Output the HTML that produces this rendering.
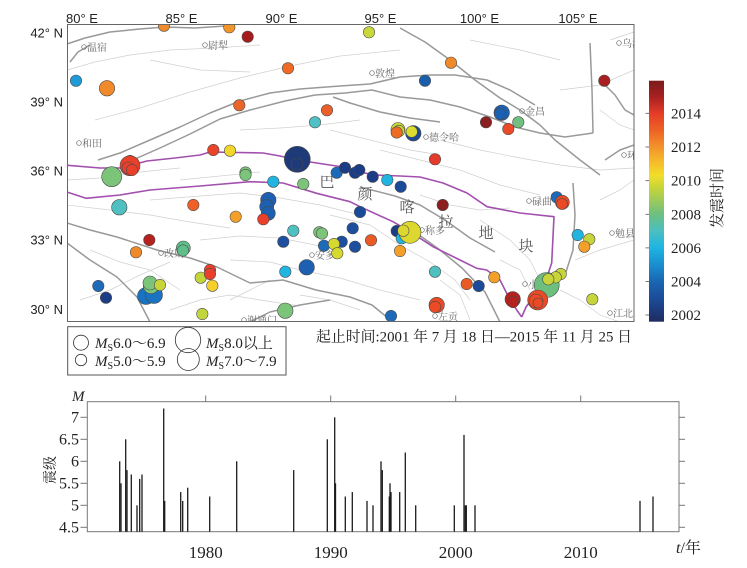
<!DOCTYPE html>
<html><head><meta charset="utf-8">
<style>
html,body{margin:0;padding:0;background:#fff;}
svg{display:block;}
.c circle{stroke:#4a4a4a;stroke-width:0.6;}
.f{fill:none;stroke:#999;stroke-width:1.5;stroke-linejoin:round;}
.l{fill:none;stroke:#d0d0d0;stroke-width:0.7;}
.p{fill:none;stroke:#a24fae;stroke-width:1.6;stroke-linejoin:round;}
.ax{font-family:"Liberation Sans",sans-serif;font-size:13px;fill:#222;}
.city{font-family:"Liberation Serif","Noto Serif CJK SC",serif;font-size:10px;fill:#666;}
.big{font-family:"Liberation Serif","Noto Serif CJK SC",serif;font-size:15px;fill:#555;text-anchor:middle;}
.sr{font-family:"Liberation Serif","Noto Serif CJK SC",serif;fill:#222;}
.bar{stroke:#1a1a1a;stroke-width:1.3;}
</style></head>
<body>
<svg width="747" height="568" viewBox="0 0 747 568" xmlns="http://www.w3.org/2000/svg">
<defs>
<clipPath id="mc"><rect x="67.5" y="24.5" width="566.5" height="297"/></clipPath>
<linearGradient id="cb" x1="0" y1="0" x2="0" y2="1">
<stop offset="0" stop-color="#7a1c1c"/>
<stop offset="0.065" stop-color="#a82020"/>
<stop offset="0.135" stop-color="#e43c27"/>
<stop offset="0.205" stop-color="#ee6225"/>
<stop offset="0.274" stop-color="#f3922a"/>
<stop offset="0.344" stop-color="#f6c02b"/>
<stop offset="0.393" stop-color="#f2dd2a"/>
<stop offset="0.448" stop-color="#c3d43b"/>
<stop offset="0.518" stop-color="#8cc66a"/>
<stop offset="0.553" stop-color="#6dbf7e"/>
<stop offset="0.623" stop-color="#4cbfc0"/>
<stop offset="0.692" stop-color="#1eb5e2"/>
<stop offset="0.762" stop-color="#1a8fd0"/>
<stop offset="0.832" stop-color="#1a66b2"/>
<stop offset="0.901" stop-color="#1b4d99"/>
<stop offset="1" stop-color="#1f2b62"/>
</linearGradient>
</defs>
<rect width="747" height="568" fill="#fff"/>

<!-- MAP -->
<g clip-path="url(#mc)">
<g class="l">
<polyline points="67,70 95,62 130,55 170,50 215,48 260,45"/>
<polyline points="95,120 140,108 190,92 240,78 290,66 340,56 400,50"/>
<polyline points="67,180 100,178 140,172 180,168"/>
<polyline points="150,200 200,196 240,193 280,198 320,205 360,215"/>
<polyline points="67,205 110,210 150,215 190,222 230,228"/>
<polyline points="200,240 240,236 280,238 320,246"/>
<polyline points="230,260 270,262 300,270 340,278 380,290 420,300"/>
<polyline points="80,300 110,290 140,275 170,262"/>
<polyline points="170,310 200,300 230,295 260,300 300,306"/>
<polyline points="330,215 370,225 400,245 430,262 455,280 470,300"/>
<polyline points="380,150 420,160 460,170 500,185 540,195"/>
<polyline points="440,140 480,150 520,158 560,165 600,170 634,168"/>
<polyline points="560,90 600,85 634,70"/>
<polyline points="600,200 620,190 634,180"/>
<polyline points="575,260 600,250 634,240"/>
<polyline points="480,220 510,240 530,260 540,280"/>
<polyline points="420,195 450,205 480,210 510,208"/>
<polyline points="330,130 370,140 410,150 440,155"/>
<polyline points="240,130 280,128 320,125 360,120"/>
<polyline points="560,290 580,300 600,315 620,322"/>
<polyline points="440,280 460,295 470,320"/>
<polyline points="300,295 330,300 360,310"/>
<polyline points="600,110 620,125 634,130"/>
<polyline points="610,40 625,35 634,32"/>
<polyline points="180,180 220,176 260,172"/>
<polyline points="90,250 120,262 150,270 180,290"/>
<polyline points="230,300 250,290 270,280"/>
<polyline points="470,40 520,50 560,60"/>
<polyline points="150,60 200,70 250,72"/>
<polyline points="500,260 520,270 530,290"/>
</g>
<g class="f">
<polyline points="67,44 85,38 110,32 140,29 165,27 195,28 225,26"/>
<polyline points="70,62 78,52 90,45"/>
<polyline points="98,160 120,153 150,140 180,127 210,113 240,101 270,93 300,89 340,86 370,84 400,77 430,75 455,75 487,80 510,90 535,105"/>
<polyline points="135,159 160,148 190,134 220,119 250,110 285,101 315,95 345,93 372,90 400,97 430,100 460,107 490,117 515,127 540,133 565,137 593,133"/>
<polyline points="590,43 592,90 593,133"/>
<polyline points="400,28 425,42 450,60 475,80 500,98 520,110 540,125 555,140 580,160 600,175"/>
<polyline points="333,97 350,103 380,112 410,118 440,122"/>
<polyline points="67,223 90,230 117,237 157,250 190,258 217,267 250,283 283,280 316,290 350,297 372,305 388,318"/>
<polyline points="67,243 90,260 117,277 137,297 150,322"/>
<polyline points="360,187 395,196 420,205 445,220 470,238 495,252"/>
<polyline points="415,232 440,250 462,268 485,292 500,322"/>
<polyline points="573,183 575,215 573,250 565,275"/>
<polyline points="605,160 620,150 634,145"/>
<polyline points="600,80 615,95 625,110 634,115"/>
<polyline points="250,322 270,312 300,305 330,300"/>
</g>
<polyline class="p" points="67,165.3 100,168 120,168 147,161 175,158 200,155 210,152 263,153 280,156 297,160 343,167 360,172 375,175 400,176 420,177 443,183 467,193 487,206.7 520,213 554,216.7 553,236.7 551.7,263 546,280 535,295 526,307 521.7,317"/>
<polyline class="p" points="67,192 86,198.3 120,195 150,190 200,186 250,181.7 283,183 316.7,193.3 350,201.7 360,206.7 393,221.7 410,231.7 433,246.7 460,260 476.7,268.3 486.7,270 500,280 506.7,293.3 516.7,310 521.7,317"/>

<g fill="none" stroke="#666" stroke-width="0.7">
<circle cx="84" cy="47" r="2.3"/><circle cx="205" cy="45" r="2.3"/><circle cx="79" cy="143" r="2.3"/>
<circle cx="372" cy="73" r="2.3"/><circle cx="522" cy="111" r="2.3"/><circle cx="426" cy="137" r="2.3"/>
<circle cx="619" cy="43" r="2.3"/><circle cx="624" cy="155" r="2.3"/><circle cx="161" cy="253" r="2.3"/>
<circle cx="312" cy="255" r="2.3"/><circle cx="244" cy="320" r="2.3"/><circle cx="422" cy="230" r="2.3"/>
<circle cx="529" cy="201" r="2.3"/><circle cx="612" cy="233" r="2.3"/><circle cx="610" cy="313" r="2.3"/>
<circle cx="525" cy="284" r="2.3"/><circle cx="435" cy="316" r="2.3"/>
</g>
<g class="city">
<text x="87" y="51">温宿</text><text x="208" y="49">尉犁</text><text x="82" y="147">和田</text>
<text x="375" y="77">敦煌</text><text x="525" y="115">金昌</text><text x="429" y="141">德令哈</text>
<text x="622" y="47">乌海</text><text x="627" y="159">环县</text><text x="164" y="257">改则</text>
<text x="315" y="259">安多</text><text x="247" y="324">谢通门</text><text x="425" y="234">称多</text>
<text x="532" y="205">碌曲</text><text x="615" y="237">勉县</text><text x="613" y="317">江北</text>
<text x="528" y="288">小金</text><text x="438" y="320">左贡</text>
</g>

<text class="big" x="327" y="187">巴</text>
<text class="big" x="365" y="199">颜</text>
<text class="big" x="407" y="212">喀</text>
<text class="big" x="446" y="227">拉</text>
<text class="big" x="486" y="238">地</text>
<text class="big" x="526" y="251">块</text>

<g class="c">
<circle cx="164" cy="25.7" r="5.7" fill="#f08a2a"/>
<circle cx="229.3" cy="27.3" r="5.7" fill="#f4952a"/>
<circle cx="247.7" cy="36.7" r="5.7" fill="#a51c1c"/>
<circle cx="369" cy="32.3" r="5.7" fill="#c8d83a"/>
<circle cx="288" cy="68.3" r="5.7" fill="#ee6a25"/>
<circle cx="451" cy="62.7" r="5.7" fill="#f08a2a"/>
<circle cx="76" cy="80.7" r="5.7" fill="#1e9ad6"/>
<circle cx="107" cy="88.3" r="7.7" fill="#f08a2a"/>
<circle cx="425" cy="80.7" r="5.7" fill="#1a5eab"/>
<circle cx="604.3" cy="80.7" r="5.7" fill="#a82020"/>
<circle cx="239.3" cy="105.3" r="5.7" fill="#e9652a"/>
<circle cx="327" cy="110.3" r="5.7" fill="#e9602a"/>
<circle cx="315" cy="122.3" r="5.7" fill="#4fc0c6"/>
<circle cx="501.7" cy="112.7" r="7.7" fill="#1d5fb0"/>
<circle cx="500" cy="114" r="5.7" fill="#1d5fb0"/>
<circle cx="486" cy="122.3" r="5.7" fill="#8b1e1e"/>
<circle cx="518.3" cy="122.3" r="5.7" fill="#72c080"/>
<circle cx="508.3" cy="129" r="5.7" fill="#ea4a25"/>
<circle cx="398" cy="129.5" r="7" fill="#c7d53a"/>
<circle cx="399" cy="131" r="5.7" fill="#c7d53a"/>
<circle cx="396.7" cy="132.5" r="5.7" fill="#ee6a25"/>
<circle cx="413.3" cy="133.3" r="7.7" fill="#1b4b98"/>
<circle cx="411.7" cy="131.7" r="5.7" fill="#dcdc30"/>
<circle cx="435" cy="159.3" r="5.7" fill="#e43c2a"/>
<circle cx="213.3" cy="150" r="5.7" fill="#e8442a"/>
<circle cx="230" cy="150.7" r="5.7" fill="#f1d72a"/>
<circle cx="297.3" cy="159.3" r="13" fill="#1e3a78"/>
<circle cx="297" cy="164" r="6" fill="#1e3a78"/>
<circle cx="130" cy="161" r="5.7" fill="#ef8a2a"/>
<circle cx="130" cy="165.7" r="10" fill="#e8402a"/>
<circle cx="128" cy="168" r="6" fill="#e8402a"/>
<circle cx="132" cy="170" r="5.7" fill="#e8402a"/>
<circle cx="111.7" cy="176.7" r="10" fill="#7cc47a"/>
<circle cx="245.5" cy="172.5" r="5.7" fill="#7cc47a"/>
<circle cx="245.5" cy="175" r="5.7" fill="#7cc47a"/>
<circle cx="336.7" cy="172.7" r="5.7" fill="#1d6ab8"/>
<circle cx="345" cy="167.7" r="5.7" fill="#1b3d85"/>
<circle cx="355" cy="172.7" r="5.7" fill="#1b3d85"/>
<circle cx="359.3" cy="170" r="5.7" fill="#1b3d85"/>
<circle cx="372.7" cy="176.7" r="5.7" fill="#1b3d85"/>
<circle cx="387.3" cy="180" r="5.7" fill="#22b4e0"/>
<circle cx="400.7" cy="186.7" r="5.7" fill="#1b4b98"/>
<circle cx="273.3" cy="181.7" r="5.7" fill="#22b4e0"/>
<circle cx="303.3" cy="184" r="5.7" fill="#7cc47a"/>
<circle cx="119.3" cy="207.3" r="7.7" fill="#4fbfc0"/>
<circle cx="193.3" cy="205" r="5.7" fill="#ee6025"/>
<circle cx="235.7" cy="216.7" r="5.7" fill="#f3a02a"/>
<circle cx="268.3" cy="200" r="7.7" fill="#1d5fb0"/>
<circle cx="266.7" cy="206.7" r="7" fill="#1d5fb0"/>
<circle cx="268.3" cy="213.3" r="7" fill="#1d5fb0"/>
<circle cx="263.3" cy="219.3" r="5.7" fill="#e8402a"/>
<circle cx="360" cy="212" r="5.7" fill="#1b4b98"/>
<circle cx="442.7" cy="205" r="5.7" fill="#8b1e1e"/>
<circle cx="149.3" cy="240" r="5.7" fill="#b5221e"/>
<circle cx="136" cy="252.3" r="5.7" fill="#ef8a2a"/>
<circle cx="183.3" cy="248" r="7" fill="#5fbe8a"/>
<circle cx="183" cy="250.5" r="5.7" fill="#5fbe8a"/>
<circle cx="210" cy="270" r="5.7" fill="#e8402a"/>
<circle cx="200.7" cy="277.7" r="5.7" fill="#c2d53a"/>
<circle cx="210" cy="274" r="5.7" fill="#e8402a"/>
<circle cx="212.3" cy="285.7" r="5.7" fill="#f5d02a"/>
<circle cx="293.3" cy="230.7" r="5.7" fill="#4fbfc0"/>
<circle cx="319.3" cy="232.3" r="5.7" fill="#7cc47a"/>
<circle cx="322" cy="233.5" r="5.7" fill="#7cc47a"/>
<circle cx="283.3" cy="241.7" r="5.7" fill="#1d4f9e"/>
<circle cx="324" cy="245.7" r="5.7" fill="#1d6ab8"/>
<circle cx="341.7" cy="241.7" r="5.7" fill="#1d4f9e"/>
<circle cx="334" cy="244" r="5.7" fill="#d5d930"/>
<circle cx="355" cy="246.7" r="5.7" fill="#1d4f9e"/>
<circle cx="352.7" cy="228.3" r="5.7" fill="#1d4f9e"/>
<circle cx="337.3" cy="253.3" r="5.7" fill="#d5d930"/>
<circle cx="371" cy="240.3" r="5.7" fill="#ea5a25"/>
<circle cx="306.7" cy="267.3" r="7.7" fill="#1d5fb0"/>
<circle cx="285.3" cy="271.7" r="5.7" fill="#22b4e0"/>
<circle cx="146" cy="296" r="8.5" fill="#1a73c0"/>
<circle cx="154" cy="295" r="8.5" fill="#1a73c0"/>
<circle cx="151" cy="286" r="7.7" fill="#7cc47a"/>
<circle cx="150" cy="283" r="7" fill="#7cc47a"/>
<circle cx="160" cy="285" r="5.7" fill="#c7d53a"/>
<circle cx="98.3" cy="286" r="5.7" fill="#1d6ab8"/>
<circle cx="106" cy="297.7" r="5.7" fill="#1b3d85"/>
<circle cx="202.3" cy="314" r="5.7" fill="#c2d53a"/>
<circle cx="285.3" cy="310.7" r="7.7" fill="#7cc47a"/>
<circle cx="396.7" cy="231" r="5.7" fill="#1b3d85"/>
<circle cx="401.7" cy="238.3" r="5.7" fill="#22b4e0"/>
<circle cx="410" cy="232.3" r="11" fill="#dcd830"/>
<circle cx="403.3" cy="230.7" r="5.7" fill="#dcd830"/>
<circle cx="400" cy="251" r="5.7" fill="#f3a02a"/>
<circle cx="435" cy="271.7" r="5.7" fill="#4fbfc0"/>
<circle cx="466.7" cy="284" r="5.7" fill="#ea5a25"/>
<circle cx="478.7" cy="286" r="5.7" fill="#1b4b98"/>
<circle cx="494.3" cy="277.3" r="5.7" fill="#f3a02a"/>
<circle cx="512.7" cy="299.3" r="7.7" fill="#b5221e"/>
<circle cx="513" cy="302" r="5.7" fill="#b5221e"/>
<circle cx="546.7" cy="285" r="12.5" fill="#6dbf7e"/>
<circle cx="560.7" cy="274" r="5.7" fill="#c7d53a"/>
<circle cx="555.7" cy="277.3" r="5.7" fill="#c7d53a"/>
<circle cx="548.3" cy="279.3" r="5.7" fill="#c7d53a"/>
<circle cx="537.7" cy="300" r="10" fill="#ea4a25"/>
<circle cx="536" cy="301" r="7" fill="#ea4a25"/>
<circle cx="538" cy="303" r="5" fill="#ea4a25"/>
<circle cx="556.7" cy="197.3" r="5.7" fill="#1d6ab8"/>
<circle cx="562.3" cy="202.3" r="7" fill="#ea4a25"/>
<circle cx="562" cy="204" r="5.5" fill="#ea4a25"/>
<circle cx="577.7" cy="235" r="5.7" fill="#22b4e0"/>
<circle cx="589.3" cy="239.3" r="5.7" fill="#c7d53a"/>
<circle cx="584.3" cy="246.7" r="5.7" fill="#f3a02a"/>
<circle cx="592.3" cy="299.3" r="5.7" fill="#c7d53a"/>
<circle cx="436.7" cy="305" r="7.7" fill="#ea4a25"/>
<circle cx="435" cy="307" r="5.7" fill="#ea4a25"/>
<circle cx="391" cy="316" r="5.7" fill="#1d6ab8"/>
</g>
</g>
<rect x="67.5" y="24.5" width="566.5" height="297" fill="none" stroke="#666" stroke-width="1"/>

<g class="ax" text-anchor="middle">
<text x="82" y="23">80° E</text>
<text x="181.5" y="23">85° E</text>
<text x="281.5" y="23">90° E</text>
<text x="380.5" y="23">95° E</text>
<text x="479.5" y="23">100° E</text>
<text x="578" y="23">105° E</text>
</g>
<g class="ax" text-anchor="end">
<text x="63" y="37.5">42° N</text>
<text x="63" y="106.5">39° N</text>
<text x="63" y="175.5">36° N</text>
<text x="63" y="244.5">33° N</text>
<text x="63" y="314">30° N</text>
</g>

<rect x="649" y="80.7" width="15" height="241" fill="url(#cb)"/>
<g stroke="#555" stroke-width="0.8">
<line x1="645.5" y1="113.3" x2="649" y2="113.3"/><line x1="645.5" y1="147" x2="649" y2="147"/>
<line x1="645.5" y1="180.7" x2="649" y2="180.7"/><line x1="645.5" y1="214.3" x2="649" y2="214.3"/>
<line x1="645.5" y1="247.9" x2="649" y2="247.9"/><line x1="645.5" y1="281.5" x2="649" y2="281.5"/>
<line x1="645.5" y1="315" x2="649" y2="315"/>
</g>
<g class="sr" font-size="15">
<text x="671" y="118.5">2014</text>
<text x="671" y="152">2012</text>
<text x="671" y="185.7">2010</text>
<text x="671" y="219.3">2008</text>
<text x="671" y="253">2006</text>
<text x="671" y="286.5">2004</text>
<text x="671" y="320">2002</text>
</g>
<text class="sr" font-size="15" transform="translate(722,198) rotate(-90)" text-anchor="middle">发震时间</text>

<rect x="67.7" y="326.7" width="218.3" height="48.3" fill="#fff" stroke="#555" stroke-width="1"/>
<g fill="none" stroke="#333" stroke-width="0.8">
<circle cx="81" cy="342.7" r="7.5"/>
<circle cx="81" cy="360" r="5.7"/>
<circle cx="188" cy="340" r="12.7"/>
<circle cx="188.3" cy="359.5" r="11"/>
</g>
<g class="sr" font-size="15">
<text x="95" y="348"><tspan font-style="italic">M</tspan><tspan font-size="10" dy="3">S</tspan><tspan dy="-3">6.0～6.9</tspan></text>
<text x="95" y="366"><tspan font-style="italic">M</tspan><tspan font-size="10" dy="3">S</tspan><tspan dy="-3">5.0～5.9</tspan></text>
<text x="206" y="348"><tspan font-style="italic">M</tspan><tspan font-size="10" dy="3">S</tspan><tspan dy="-3">8.0以上</tspan></text>
<text x="206" y="366"><tspan font-style="italic">M</tspan><tspan font-size="10" dy="3">S</tspan><tspan dy="-3">7.0～7.9</tspan></text>
</g>
<text class="sr" font-size="15" x="316" y="341.5" textLength="316" lengthAdjust="spacingAndGlyphs">起止时间:2001 年 7 月 18 日—2015 年 11 月 25 日</text>

<rect x="87.3" y="401.7" width="591.7" height="130" fill="none" stroke="#777" stroke-width="1"/>
<g stroke="#777" stroke-width="1">
<line x1="80.5" y1="417.3" x2="87.3" y2="417.3"/><line x1="80.5" y1="439.3" x2="87.3" y2="439.3"/>
<line x1="80.5" y1="461.3" x2="87.3" y2="461.3"/><line x1="80.5" y1="483.3" x2="87.3" y2="483.3"/>
<line x1="80.5" y1="505.3" x2="87.3" y2="505.3"/><line x1="80.5" y1="527.3" x2="87.3" y2="527.3"/>
<line x1="679" y1="417.3" x2="685" y2="417.3"/><line x1="679" y1="439.3" x2="685" y2="439.3"/>
<line x1="679" y1="461.3" x2="685" y2="461.3"/><line x1="679" y1="483.3" x2="685" y2="483.3"/>
<line x1="679" y1="505.3" x2="685" y2="505.3"/><line x1="679" y1="527.3" x2="685" y2="527.3"/>
<line x1="205.7" y1="395.5" x2="205.7" y2="401.7"/><line x1="330.7" y1="395.5" x2="330.7" y2="401.7"/>
<line x1="455.7" y1="395.5" x2="455.7" y2="401.7"/><line x1="580.7" y1="395.5" x2="580.7" y2="401.7"/>
</g>
<g class="sr" font-size="16" text-anchor="end">
<text x="79" y="422.5">7</text>
<text x="79" y="444.5">6.5</text>
<text x="79" y="466.5">6</text>
<text x="79" y="488.5">5.5</text>
<text x="79" y="510.5">5</text>
<text x="79" y="532.5">4.5</text>
</g>
<text class="sr" font-size="15" font-style="italic" x="72" y="401">M</text>
<text class="sr" font-size="14" transform="translate(55,470) rotate(-90)" text-anchor="middle">震级</text>
<g class="sr" font-size="17" text-anchor="middle">
<text x="205.7" y="558">1980</text>
<text x="330.7" y="558">1990</text>
<text x="455.7" y="558">2000</text>
<text x="580.7" y="558">2010</text>
</g>
<text class="sr" font-size="16" x="676" y="553"><tspan font-style="italic">t</tspan>/年</text>

<g class="bar">
<line x1="119.7" y1="531.7" x2="119.7" y2="461.3"/>
<line x1="121" y1="531.7" x2="121" y2="483.3"/>
<line x1="125.7" y1="531.7" x2="125.7" y2="439.3"/>
<line x1="127" y1="531.7" x2="127" y2="470.1"/>
<line x1="131.3" y1="531.7" x2="131.3" y2="474.5"/>
<line x1="137" y1="531.7" x2="137" y2="505.3"/>
<line x1="139.7" y1="531.7" x2="139.7" y2="478.9"/>
<line x1="142" y1="531.7" x2="142" y2="474.5"/>
<line x1="163.7" y1="531.7" x2="163.7" y2="408.5"/>
<line x1="164.7" y1="531.7" x2="164.7" y2="500.9"/>
<line x1="180.7" y1="531.7" x2="180.7" y2="492.1"/>
<line x1="182.7" y1="531.7" x2="182.7" y2="500.9"/>
<line x1="187.7" y1="531.7" x2="187.7" y2="487.7"/>
<line x1="209.7" y1="531.7" x2="209.7" y2="496.5"/>
<line x1="236.7" y1="531.7" x2="236.7" y2="461.3"/>
<line x1="293.7" y1="531.7" x2="293.7" y2="470.1"/>
<line x1="327.3" y1="531.7" x2="327.3" y2="439.3"/>
<line x1="334.7" y1="531.7" x2="334.7" y2="417.3"/>
<line x1="335.5" y1="531.7" x2="335.5" y2="483.3"/>
<line x1="345.3" y1="531.7" x2="345.3" y2="496.5"/>
<line x1="352.3" y1="531.7" x2="352.3" y2="492.1"/>
<line x1="367" y1="531.7" x2="367" y2="500.9"/>
<line x1="373" y1="531.7" x2="373" y2="505.3"/>
<line x1="381" y1="531.7" x2="381" y2="461.3"/>
<line x1="382.3" y1="531.7" x2="382.3" y2="470.1"/>
<line x1="389.3" y1="531.7" x2="389.3" y2="496.5"/>
<line x1="390" y1="531.7" x2="390" y2="483.3"/>
<line x1="391" y1="531.7" x2="391" y2="492.1"/>
<line x1="399.7" y1="531.7" x2="399.7" y2="492.1"/>
<line x1="405.3" y1="531.7" x2="405.3" y2="452.5"/>
<line x1="415.7" y1="531.7" x2="415.7" y2="505.3"/>
<line x1="454.3" y1="531.7" x2="454.3" y2="505.3"/>
<line x1="464" y1="531.7" x2="464" y2="434.9"/>
<line x1="465.3" y1="531.7" x2="465.3" y2="505.3"/>
<line x1="466.3" y1="531.7" x2="466.3" y2="505.3"/>
<line x1="475" y1="531.7" x2="475" y2="505.3"/>
<line x1="640" y1="531.7" x2="640" y2="500.9"/>
<line x1="653" y1="531.7" x2="653" y2="496.5"/>
</g>
</svg>
</body></html>
